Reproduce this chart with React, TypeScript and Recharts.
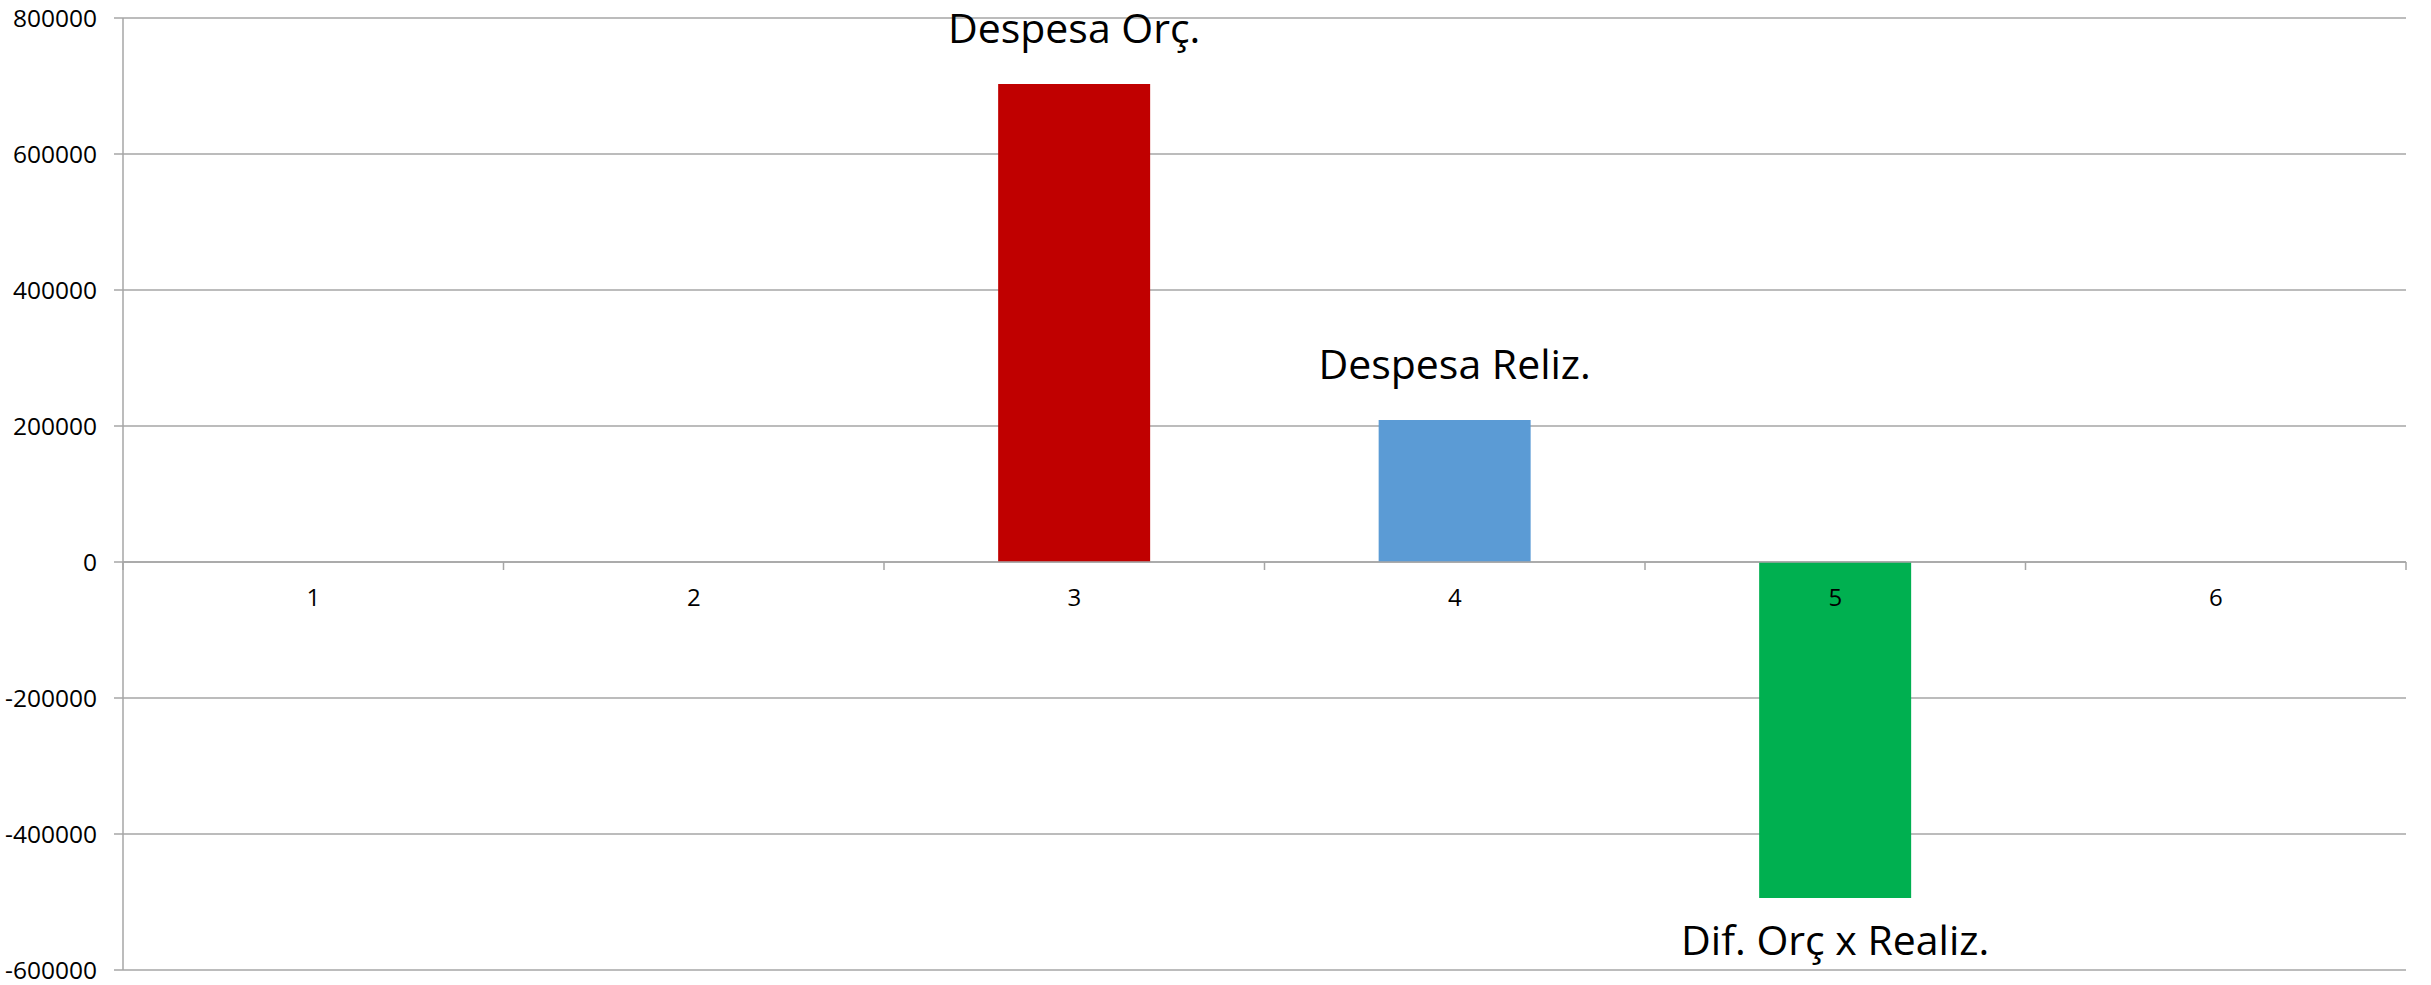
import React from 'react';
import { BarChart, Bar, XAxis, YAxis, CartesianGrid, Cell, LabelList, ReferenceLine } from 'recharts';

const categories = ['1', '2', '3', '4', '5', '6'];
const values = [0, 0, 703000, 209000, -494000, 0];
const seriesNames = ['', '', 'Despesa Orç.', 'Despesa Reliz.', 'Dif. Orç x Realiz.', ''];
const barColors = ['#C00000', '#C00000', '#C00000', '#5B9BD5', '#00B050', '#00B050'];
const yTicks = [-600000, -400000, -200000, 0, 200000, 400000, 600000, 800000];

const data = categories.map((name, i) => ({ name, value: values[i], label: seriesNames[i] }));

const W = 2431;
const H = 985;
const xAxisHeight = 15;
const margin = { top: 18, right: 25, bottom: 0, left: 0 };
const yAxisWidth = 123;
const plotW = W - margin.left - margin.right - yAxisWidth;
const plotH = H - margin.top - margin.bottom - xAxisHeight;
const yMin = yTicks[0];
const yMax = yTicks[yTicks.length - 1];
const zeroY = margin.top + (plotH * yMax) / (yMax - yMin);
const band = plotW / categories.length;

const font = "'Open Sans', sans-serif";
const gridColor = '#a6a6a6';

const XTick = (props: any) => {
  const { x, index, payload } = props;
  const left = x - band / 2;
  const right = x + band / 2;
  return (
    <g>
      <line x1={left} x2={left} y1={zeroY} y2={zeroY + 8} stroke={gridColor} strokeWidth={1.5} />
      {index === categories.length - 1 && (
        <line x1={right} x2={right} y1={zeroY} y2={zeroY + 8} stroke={gridColor} strokeWidth={1.5} />
      )}
      <text x={x} y={zeroY + 44} textAnchor="middle" fontSize={24} fontFamily={font} fill="#000">
        {payload.value}
      </text>
    </g>
  );
};

const BarName = (props: any) => {
  const { x, y, width, height, value } = props;
  const i = values.indexOf(value);
  const name = seriesNames[i];
  if (!name) return null;
  const top = Math.min(y, y + height);
  const bottom = Math.max(y, y + height);
  const neg = value < 0;
  return (
    <text
      x={x + width / 2}
      y={neg ? bottom + 57 : top - 41}
      textAnchor="middle"
      fontSize={41}
      fontFamily={font}
      fill="#000"
    >
      {name}
    </text>
  );
};

export default function App() {
  return (
    <div style={{ position: 'absolute', left: 0, top: 0, background: '#fff' }}>
      <BarChart width={W} height={H} data={data} margin={margin} barCategoryGap="30%">
        <CartesianGrid vertical={false} stroke={gridColor} strokeWidth={1.5} />
        <XAxis
          dataKey="name"
          height={xAxisHeight}
          axisLine={false}
          tickLine={false}
          tick={(p: any) => <XTick {...p} />}
          interval={0}
        />
        <YAxis
          width={yAxisWidth}
          domain={[yMin, yMax]}
          ticks={yTicks}
          interval={0}
          axisLine={{ stroke: gridColor, strokeWidth: 1.5 }}
          tickLine={{ stroke: gridColor, strokeWidth: 1.5 }}
          tickSize={9}
          tickMargin={17}
          tick={{ fontSize: 24.5, fontFamily: font, fill: '#000' }}
        />
        <ReferenceLine y={0} stroke={gridColor} strokeWidth={1.5} />
        <Bar dataKey="value" isAnimationActive={false}>
          {data.map((d, i) => (
            <Cell key={d.name} fill={barColors[i]} />
          ))}
          <LabelList dataKey="value" content={<BarName />} />
        </Bar>
      </BarChart>
    </div>
  );
}
